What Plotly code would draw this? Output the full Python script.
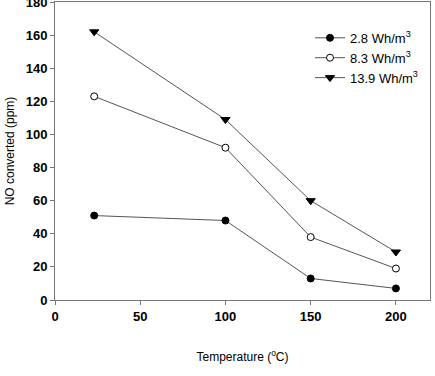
import plotly.graph_objects as go

temps = [23, 100, 150, 200]
s28 = [51, 48, 13, 7]
s83 = [123, 92, 38, 19]
s139 = [162, 109, 60, 29]
names = ["2.8 Wh/m<sup>3</sup>", "8.3 Wh/m<sup>3</sup>", "13.9 Wh/m<sup>3</sup>"]

line_col = "#555555"
fig = go.Figure()
fig.add_trace(go.Scatter(x=temps, y=s28, name=names[0], mode="lines+markers",
                         line=dict(color=line_col, width=1),
                         marker=dict(symbol="circle", size=7, color="black", line=dict(color="black", width=1))))
fig.add_trace(go.Scatter(x=temps, y=s83, name=names[1], mode="lines+markers",
                         line=dict(color=line_col, width=1),
                         marker=dict(symbol="circle", size=7, color="white", line=dict(color="black", width=1))))
fig.add_trace(go.Scatter(x=temps, y=s139, name=names[2], mode="lines+markers",
                         line=dict(color=line_col, width=1),
                         marker=dict(symbol="triangle-down", size=8, color="black", line=dict(color="black", width=1))))

axis_common = dict(showline=True, linecolor="#777777", linewidth=1, mirror=True,
                   ticks="outside", ticklen=4, tickcolor="#777777", showgrid=False, zeroline=False,
                   ticklabeloverflow="allow", automargin=False,
                   tickfont=dict(family="Arial", size=13, color="black", weight="bold"))
fig.update_xaxes(range=[0, 220], tickvals=[0, 50, 100, 150, 200],
                 title=dict(text="Temperature (<sup>o</sup>C)", font=dict(family="Arial", size=12, color="black"), standoff=30),
                 **axis_common)
fig.update_yaxes(range=[0, 180], tickvals=list(range(0, 181, 20)),
                 title=dict(text="NO converted (ppm)", font=dict(family="Arial", size=12, color="black"), standoff=8),
                 **axis_common)
fig.update_layout(width=435, height=376, margin=dict(l=55, r=5, t=2, b=76),
                  plot_bgcolor="white", paper_bgcolor="white",
                  legend=dict(x=0.68, y=0.93, xanchor="left", yanchor="top", bgcolor="rgba(0,0,0,0)",
                              font=dict(family="Arial", size=13, color="black"), tracegroupgap=5,
                              itemwidth=30))
fig.write_html("out.html")
